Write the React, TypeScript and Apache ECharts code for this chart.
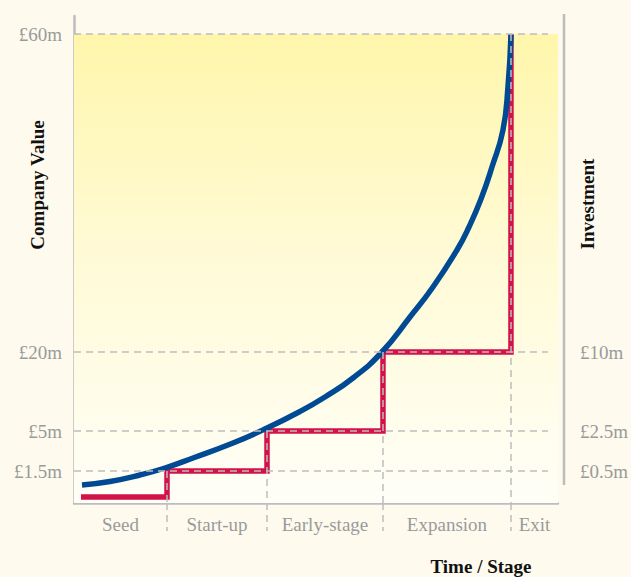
import React, { useEffect, useRef } from "react";
import * as echarts from "echarts";

// Stages along the time axis (chart units)
const stages = ["Seed", "Start-up", "Early-stage", "Expansion", "Exit"];
const stageBounds = [0, 93, 193, 309, 437, 484];

// Investment step levels per stage (chart height units)
const investmentStartX = 7;
const investmentLevels = [6, 32, 72, 151, 469];

// Company value curve (chart units)
const curveX = [8, 36, 66, 91, 119, 159, 191, 226, 251, 279, 308, 336, 359, 383, 395, 407, 418, 429, 434, 437];
const curveY = [18, 21.5, 28, 35, 45, 60, 74, 91.5, 106, 125, 151, 186, 216, 253, 276, 304, 336, 373, 416, 468];

// Tick levels and labels
const levelTicks = [32, 72, 151, 469];
const companyValueLabels = ["£1.5m", "£5m", "£20m", "£60m"];
const investmentTicks = [32, 72, 151];
const investmentLabels = ["£0.5m", "£2.5m", "£10m"];

const GRID_LINE_END = 474;

export default function App() {
  const ref = useRef<HTMLDivElement>(null);

  useEffect(() => {
    if (!ref.current) return;
    const chart = echarts.init(ref.current, null, { renderer: "svg" });

    const stepPoints: number[][] = [[investmentStartX, investmentLevels[0]]];
    for (let i = 0; i < investmentLevels.length - 1; i++) {
      stepPoints.push([stageBounds[i + 1], investmentLevels[i]]);
      stepPoints.push([stageBounds[i + 1], investmentLevels[i + 1]]);
    }

    const curve = curveX.map((x, i) => [x, curveY[i]]);

    const centers = stages.map((_, i) => (stageBounds[i] + stageBounds[i + 1]) / 2);
    const innerBounds = stageBounds.slice(1, stageBounds.length - 1);

    const dashStyle = { type: [7, 5] as any, color: "#bdbdbd", width: 1.5 };

    const markLines: any[] = [];
    levelTicks.forEach((t) => {
      markLines.push([{ coord: [0, t] }, { coord: [GRID_LINE_END, t] }]);
    });
    innerBounds.forEach((b, i) => {
      markLines.push([{ coord: [b, investmentLevels[i + 1]] }, { coord: [b, 0] }]);
    });

    const labelFont = {
      fontFamily: "Liberation Serif",
      fontSize: 19,
      color: "#9a9a9a",
    };
    const titleStyle = {
      fontFamily: "Liberation Serif",
      fontWeight: "bold",
      fontSize: 19,
      fill: "#111",
      textAlign: "center",
      textVerticalAlign: "middle",
    };

    chart.setOption({
      animation: false,
      backgroundColor: "#fefaee",
      grid: { left: 74, right: 73, top: 16, bottom: 74 },
      xAxis: {
        type: "value",
        min: 0,
        max: 484,
        splitLine: { show: false },
        axisLine: { show: true, lineStyle: { color: "#bdbdbd", width: 2.5 } },
        axisTick: {
          show: true,
          customValues: innerBounds,
          length: 28,
          lineStyle: { color: "#bdbdbd", width: 1.5, type: [7, 5] },
        },
        axisLabel: {
          customValues: centers,
          margin: 12,
          ...labelFont,
          formatter: (v: number) => {
            let best = 0;
            centers.forEach((c, i) => {
              if (Math.abs(c - v) < Math.abs(centers[best] - v)) best = i;
            });
            return stages[best];
          },
        },
      },
      yAxis: [
        {
          type: "value",
          min: 0,
          max: 487,
          position: "left",
          splitLine: { show: false },
          axisLine: { show: true, lineStyle: { color: "#bdbdbd", width: 2.5 } },
          axisTick: { show: false },
          axisLabel: {
            customValues: levelTicks,
            margin: 12,
            ...labelFont,
            formatter: (v: number) => companyValueLabels[levelTicks.indexOf(v)] ?? "",
          },
        },
        {
          type: "value",
          min: 0,
          max: 487,
          position: "right",
          splitLine: { show: false },
          axisLine: { show: false },
          axisTick: { show: false },
          axisLabel: {
            customValues: investmentTicks,
            margin: 22,
            ...labelFont,
            formatter: (v: number) => investmentLabels[investmentTicks.indexOf(v)] ?? "",
          },
        },
      ],
      graphic: [
        {
          type: "line",
          shape: { x1: 564, y1: 14, x2: 564, y2: 485 },
          style: { stroke: "#bdbdbd", lineWidth: 2.5 },
        },
        {
          type: "text",
          x: 37,
          y: 185,
          rotation: Math.PI / 2,
          style: { text: "Company Value", ...titleStyle },
        },
        {
          type: "text",
          x: 587,
          y: 204,
          rotation: Math.PI / 2,
          style: { text: "Investment", ...titleStyle },
        },
        {
          type: "text",
          x: 481,
          y: 566,
          style: { text: "Time / Stage", ...titleStyle },
        },
      ],
      series: [
        {
          type: "line",
          data: [],
          z: 0,
          silent: true,
          markArea: {
            silent: true,
            itemStyle: {
              color: new echarts.graphic.LinearGradient(0, 0, 0, 1, [
                { offset: 0, color: "#fff6ab" },
                { offset: 0.45, color: "#fffad4" },
                { offset: 1, color: "#fffef7" },
              ]),
            },
            data: [[{ coord: [0, 0] }, { coord: [484, levelTicks[levelTicks.length - 1]] }]],
          },
        },
        {
          name: "Investment",
          type: "line",
          data: stepPoints,
          z: 2,
          symbol: "none",
          lineStyle: { color: "#d4124a", width: 5.5, join: "miter" },
        },
        {
          type: "line",
          data: [],
          z: 3,
          markLine: {
            silent: true,
            symbol: ["none", "none"],
            label: { show: false },
            lineStyle: dashStyle,
            data: markLines,
          },
        },
        {
          name: "Company Value",
          type: "line",
          data: curve,
          z: 4,
          smooth: 0.5,
          symbol: "none",
          lineStyle: { color: "#004a94", width: 5.5 },
        },
      ],
    });

    return () => chart.dispose();
  }, []);

  return (
    <div
      ref={ref}
      style={{ position: "absolute", left: 0, top: 0, width: 631, height: 577 }}
    />
  );
}
